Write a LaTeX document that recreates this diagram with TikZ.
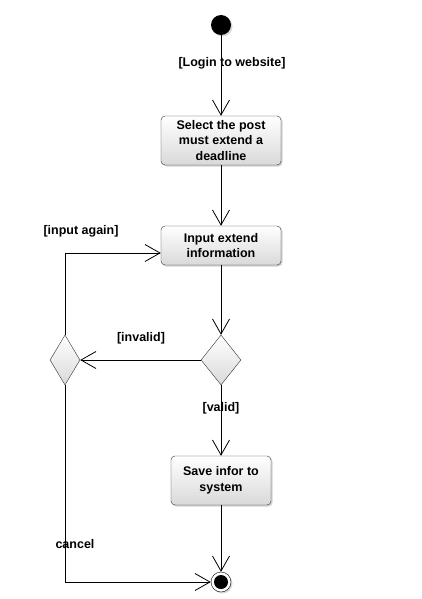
\documentclass[tikz,border=0pt]{standalone}
\usepackage{fontspec}
\setmainfont{Liberation Sans}
\usetikzlibrary{arrows.meta,shapes.geometric,shadows}
\definecolor{actgray}{HTML}{D9D9D9}
\tikzset{
  actBox/.style={draw=black!80, rounded corners=4pt, top color=white, bottom color=actgray,
    drop shadow={opacity=0.35, shadow xshift=1.5pt, shadow yshift=-1.5pt},
    align=center, inner sep=2pt, font=\bfseries\fontsize{12.5}{15.5}\selectfont},
  decide/.style={diamond, draw=black!80, inner sep=0pt, top color=white, bottom color=actgray,
    minimum height=50pt},
  flow/.style={-{Straight Barb[length=15pt,width=17pt]}, draw=black, line width=0.8pt},
  guardLabel/.style={font=\bfseries\fontsize{12.5}{15.5}\selectfont, inner sep=1pt}
}
\begin{document}
\begin{tikzpicture}[x=1pt,y={(0pt,-1pt)}]
  \useasboundingbox[fill=white] (0,0) rectangle (422,599);
  % nodes
  \node[circle, fill=black, minimum size=20pt, inner sep=0pt,
    drop shadow={opacity=0.3, shadow xshift=1.5pt, shadow yshift=-1.5pt}] (start) at (221,25) {};
  \node[actBox, minimum width=120pt, minimum height=49pt] (sel) at (221,140.5)
    {Select the post\\must extend a\\deadline};
  \node[actBox, minimum width=120pt, minimum height=39pt] (inp) at (221,245.5)
    {Input extend\\information};
  \node[decide, minimum width=40pt] (chk) at (221,360) {};
  \node[decide, minimum width=30pt] (mrg) at (65,360) {};
  \node[actBox, minimum width=100pt, minimum height=49pt] (save) at (221,480.5)
    {Save infor to\\system};
  \node[circle, draw=black, fill=white, minimum size=20pt, inner sep=0pt,
    drop shadow={opacity=0.3, shadow xshift=1.5pt, shadow yshift=-1.5pt},
    path picture={\fill[black] (path picture bounding box.center) circle (7pt);}] (fin) at (221,582) {};
  % guards
  \node[guardLabel] (lblLogin) at (232,63) {[Login to website]};
  \node[guardLabel] (lblAgain) at (81,231) {[input again]};
  \node[guardLabel] (lblInvalid) at (141,338) {[invalid]};
  \node[guardLabel] (lblValid) at (221,408) {[valid]};
  \node[guardLabel] (lblCancel) at (75,544) {cancel};
  % connectors
  \draw[flow] (start) -- (sel);
  \draw[flow] (sel) -- (inp);
  \draw[flow] (inp) -- (chk);
  \draw[flow] (chk.west) -- (mrg.east);
  \draw[flow] (mrg.north) |- ([yshift=-7.5pt]inp.west);
  \draw[flow] (chk.south) -- (save);
  \draw[flow] (save) -- (fin);
  \draw[flow] (mrg.south) |- (fin.west);
\end{tikzpicture}
\end{document}
